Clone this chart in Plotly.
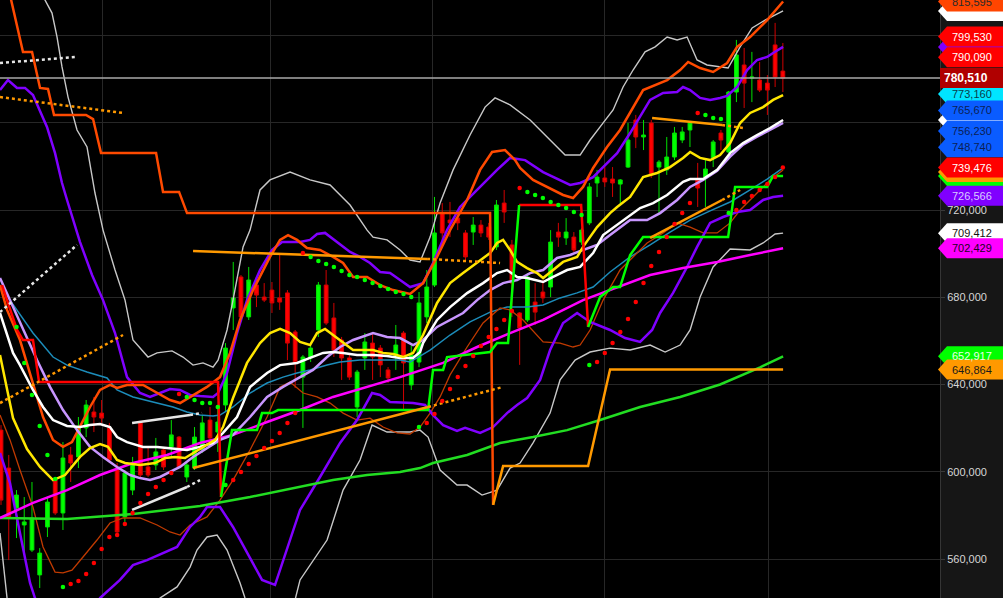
import plotly.graph_objects as go

K = 1000.0
Y_MIN, Y_MAX = 542117, 816300
X_MIN, X_MAX = -0.13, 121.3
FIG_W, FIG_H, PLOT_W = 1003, 598, 940

# ---------------- candles (values in thousands) ----------------
candle_idx = list(range(102))
opens = [619.1, 601.7, 583.4, 575.6, 564.1, 552.7, 574.7, 596.2, 581.1, 607.7,
         606.8, 620.1, 627.4, 626.9, 620.1, 601.7, 579.3, 591.6, 622.4, 602.2,
         603.1, 610.0, 611.4, 615.9, 597.6, 601.7, 610.0, 623.7, 618.2, 630.6,
         675.1, 689.3, 671.0, 685.6, 680.1, 683.3, 679.7, 682.0, 664.1, 643.4,
         652.2, 665.0, 685.6, 670.5, 660.4, 652.2, 629.7, 652.2, 659.0, 656.7,
         646.7, 652.6, 663.6, 639.8, 650.3, 671.0, 685.6, 718.6, 715.4, 716.3,
         709.5, 709.9, 713.1, 712.2, 703.1, 723.2, 704.0, 672.8, 669.6, 677.8,
         682.4, 684.7, 709.9, 707.2, 707.6, 705.3, 714.1, 732.4, 734.7, 734.2,
         731.9, 739.7, 761.3, 753.5, 759.9, 739.7, 738.4, 744.3, 752.1, 756.7,
         733.8, 735.1, 743.9, 755.3, 746.6, 774.1, 786.5, 780.5, 779.6, 778.2,
         795.7, 783.7]
highs = [621.4, 607.7, 591.6, 588.4, 595.3, 565.0, 588.4, 597.1, 613.6, 611.4,
         625.1, 632.9, 634.3, 632.9, 622.4, 604.0, 600.8, 606.8, 623.3, 611.4,
         615.5, 610.4, 623.7, 616.4, 604.0, 620.5, 626.0, 629.7, 630.6, 659.0,
         696.2, 690.2, 693.9, 689.3, 686.5, 687.0, 699.4, 683.3, 665.0, 653.5,
         658.1, 687.0, 692.5, 677.4, 661.8, 654.4, 646.7, 663.6, 663.6, 658.1,
         648.0, 667.3, 664.5, 658.1, 682.4, 692.5, 726.0, 723.2, 723.7, 720.0,
         710.8, 716.8, 715.4, 714.1, 724.6, 729.2, 706.3, 673.2, 691.1, 686.5,
         687.9, 710.8, 714.1, 716.3, 709.9, 711.8, 732.4, 738.4, 740.6, 739.7,
         734.2, 759.9, 763.6, 761.3, 761.3, 742.9, 753.5, 758.1, 758.1, 760.4,
         741.6, 742.9, 752.1, 756.7, 774.6, 798.0, 794.3, 792.5, 787.9, 781.9,
         805.8, 796.6]
lows = [584.8, 559.5, 569.6, 562.7, 563.2, 546.7, 570.1, 580.2, 573.3, 595.3,
        601.7, 615.9, 618.2, 622.4, 604.0, 571.9, 577.0, 589.3, 597.6, 597.6,
        600.8, 600.8, 606.8, 601.7, 595.3, 600.8, 608.6, 611.4, 609.1, 627.4,
        665.0, 669.6, 669.6, 675.5, 677.8, 672.8, 674.2, 651.2, 638.4, 620.1,
        650.3, 661.8, 667.3, 652.6, 642.1, 642.1, 625.1, 646.7, 642.1, 643.4,
        640.7, 646.7, 628.3, 637.5, 648.0, 668.2, 684.7, 704.9, 707.6, 710.8,
        697.1, 704.0, 707.6, 706.3, 701.7, 714.1, 671.0, 649.0, 668.7, 667.3,
        677.4, 680.1, 703.1, 704.0, 700.8, 704.0, 713.1, 726.0, 730.6, 726.0,
        722.3, 739.3, 748.4, 747.5, 734.7, 718.6, 736.1, 742.9, 750.7, 748.9,
        721.4, 721.4, 739.7, 747.5, 746.1, 769.5, 766.8, 769.5, 774.1, 763.6,
        776.4, 774.1]
closes = [587.0, 579.3, 589.3, 577.0, 578.8, 562.7, 586.1, 581.1, 606.3, 604.0,
          620.5, 630.6, 625.1, 624.6, 605.4, 572.4, 599.4, 604.0, 598.5, 598.5,
          609.1, 602.2, 616.9, 602.2, 603.1, 615.9, 622.4, 615.5, 622.8, 656.7,
          679.7, 671.0, 687.9, 681.0, 678.7, 677.4, 677.8, 659.0, 649.9, 652.6,
          656.7, 685.6, 668.2, 655.8, 652.2, 643.4, 645.7, 659.5, 652.6, 649.0,
          643.0, 658.1, 649.9, 653.5, 677.4, 684.7, 709.5, 709.5, 714.1, 714.1,
          698.5, 713.1, 709.5, 707.6, 722.3, 719.1, 686.5, 665.9, 689.3, 673.2,
          679.7, 705.3, 707.6, 709.9, 701.7, 710.8, 730.6, 735.1, 732.9, 732.4,
          733.8, 752.1, 753.5, 754.4, 736.1, 742.0, 744.3, 755.3, 755.8, 759.9,
          730.1, 738.8, 751.2, 752.1, 774.1, 791.1, 778.2, 781.0, 775.0, 775.0,
          781.0, 780.51]

# ---------------- indicator lines: (candle index, value in thousands) ----------------
bb_outer_up = [(5.04, 825.5), (5.68, 816.3), (6.59, 810.3), (7.24, 799.3), (7.88, 785.6), (8.66, 771.8),
               (9.82, 756.7), (11.11, 748.9), (12.14, 727.8), (13.18, 710.8), (14.73, 692.5), (16.02, 678.7),
               (17.05, 660.4), (18.99, 652.6), (20.16, 654.5), (22.09, 655.4), (23.51, 652.6), (24.81, 648.9),
               (26.10, 649.9), (27.39, 648.0), (28.04, 651.2), (29.20, 665.0), (29.97, 678.7), (31.27, 703.1),
               (32.17, 710.8), (33.46, 729.2), (34.75, 733.8), (37.34, 737.4), (39.92, 733.8), (42.51, 731.5),
               (45.09, 722.3), (47.29, 710.8), (48.06, 707.6), (49.87, 706.3), (51.55, 701.7), (52.84, 697.1),
               (54.13, 696.2), (55.43, 707.6), (56.72, 723.2), (58.40, 738.4), (60.59, 754.4), (62.53, 767.2),
               (63.82, 771.4), (65.76, 768.2), (68.35, 761.3), (70.93, 752.1), (72.87, 745.2), (74.81, 745.2),
               (76.10, 752.1), (77.39, 758.1), (79.07, 765.9), (80.36, 776.4), (81.65, 784.2), (83.20, 792.5),
               (84.50, 794.8), (86.05, 799.3), (87.34, 798.0), (88.63, 799.3), (89.92, 788.8), (91.21, 786.5),
               (93.93, 785.1), (95.48, 794.8), (97.03, 803.5), (98.71, 807.1), (101.03, 811.3)]
bb_outer_lo = [(-0.13, 571.9), (0.78, 542.1), (5.04, 518.3), (16.67, 518.3), (20.54, 542.1), (22.74, 547.2),
               (24.42, 556.3), (25.32, 564.1), (26.61, 570.1), (27.91, 571.0), (29.20, 564.1), (30.88, 549.0),
               (31.52, 542.1), (33.46, 522.9), (36.69, 522.9), (38.63, 550.4), (42.12, 568.7), (44.19, 591.6),
               (46.38, 605.4), (47.93, 621.4), (49.87, 618.2), (52.84, 618.2), (54.13, 619.1), (55.17, 615.9),
               (56.72, 600.8), (58.91, 593.9), (60.21, 593.9), (62.14, 589.3), (64.08, 591.6), (65.76, 601.7),
               (67.05, 604.0), (68.73, 613.2), (70.93, 626.9), (72.22, 642.1), (74.16, 651.2), (76.10, 654.9),
               (78.68, 656.7), (81.27, 655.8), (83.85, 658.1), (85.79, 654.9), (87.73, 658.1), (89.02, 665.0),
               (90.31, 680.1), (91.99, 693.9), (94.19, 702.1), (96.77, 701.7), (98.45, 704.9), (100.0, 709.0),
               (101.03, 709.4)]
bb_up = [(-0.13, 775.0), (0.90, 779.6), (2.07, 776.0), (3.10, 776.0), (4.13, 772.7), (5.94, 758.1), (6.98, 746.1),
         (7.88, 732.4), (8.53, 724.6), (10.21, 705.3), (11.76, 690.2), (13.18, 678.7), (14.73, 663.6), (16.28, 643.4),
         (17.96, 636.1), (19.25, 634.3), (20.54, 636.1), (21.83, 637.9), (23.13, 637.5), (24.42, 635.2), (25.71, 634.7),
         (27.39, 634.3), (28.04, 636.1), (29.20, 645.3), (30.49, 663.6), (31.78, 678.7), (33.46, 692.5), (35.01, 701.7),
         (36.31, 705.3), (38.63, 705.3), (39.92, 706.3), (40.83, 709.0), (41.86, 709.5), (43.41, 705.3), (45.09, 700.8),
         (46.38, 698.5), (47.67, 695.7), (48.97, 691.6), (50.26, 691.1), (51.55, 687.9), (52.84, 684.7), (54.52, 686.5),
         (55.81, 695.7), (57.62, 710.8), (59.30, 721.4), (61.50, 729.2), (62.79, 733.8), (64.08, 738.4), (65.76, 743.9),
         (67.70, 742.9), (70.03, 737.4), (72.22, 733.8), (73.51, 731.5), (74.81, 732.4), (76.49, 735.1), (77.78, 739.7),
         (79.59, 746.1), (81.27, 755.3), (82.56, 762.7), (83.85, 770.5), (85.53, 773.7), (87.34, 774.1), (88.11, 776.4),
         (89.02, 775.0), (90.31, 771.4), (91.60, 770.5), (92.89, 771.4), (93.80, 772.3), (95.09, 776.4), (96.38, 784.2),
         (97.67, 788.8), (98.97, 790.2), (99.74, 792.0), (101.03, 794.8)]
bb_lo = [(-0.13, 608.6), (1.16, 594.8), (2.45, 571.9), (3.75, 549.0), (4.39, 542.1), (6.33, 522.9), (10.85, 522.9),
         (12.79, 542.1), (15.37, 550.4), (17.05, 557.2), (18.86, 559.5), (20.93, 562.7), (22.74, 565.5), (24.42, 574.7),
         (25.71, 579.3), (26.61, 583.8), (28.29, 583.8), (29.97, 574.7), (31.78, 562.7), (33.72, 550.4), (35.40, 548.1),
         (37.08, 566.4), (38.63, 582.5), (41.21, 597.6), (43.80, 613.2), (45.99, 623.7), (47.93, 636.1), (48.97, 635.2),
         (50.26, 632.0), (53.23, 631.5), (54.78, 630.6), (55.81, 626.0), (57.11, 621.4), (58.91, 618.7), (59.95, 620.1),
         (61.89, 617.8), (63.57, 620.5), (65.37, 626.9), (66.67, 630.6), (67.96, 633.8), (69.64, 642.1), (70.93, 655.8),
         (72.61, 668.2), (74.42, 672.8), (76.10, 668.7), (78.68, 665.0), (80.62, 661.3), (82.56, 659.5), (84.11, 665.0),
         (85.14, 672.8), (86.82, 682.0), (88.63, 693.9), (89.92, 703.1), (91.60, 714.1), (93.28, 716.8), (95.09, 719.1),
         (96.77, 720.0), (98.45, 724.6), (99.74, 726.0), (101.03, 726.57)]
kelt_up = [(-0.13, 685.6), (0.78, 674.2), (2.45, 660.4), (4.13, 640.7), (5.43, 625.1), (6.72, 614.6), (8.01, 611.4),
           (9.17, 613.6), (10.21, 620.5), (11.50, 629.7), (12.79, 637.5), (14.08, 639.8), (14.99, 638.4), (16.28, 639.8),
           (18.35, 639.8), (20.16, 636.1), (21.83, 632.9), (23.13, 631.5), (24.81, 635.2), (26.61, 638.9), (28.29, 643.4),
           (29.59, 654.5), (30.88, 669.6), (32.56, 683.3), (34.75, 698.5), (36.05, 706.3), (37.08, 708.5), (38.24, 706.3),
           (39.53, 702.6), (41.21, 701.7), (42.89, 698.5), (44.19, 695.7), (45.48, 689.3), (47.29, 689.3), (48.97, 685.6),
           (50.65, 683.3), (52.84, 681.5), (54.52, 686.5), (56.33, 698.5), (58.01, 710.8), (60.21, 724.6), (61.89, 738.4),
           (63.44, 746.6), (65.11, 747.5), (66.41, 742.9), (67.05, 739.3), (68.73, 733.8), (70.93, 730.1), (72.61, 726.9),
           (73.90, 725.5), (75.19, 730.6), (76.49, 739.3), (78.29, 748.9), (79.97, 756.7), (81.27, 764.5), (82.95, 775.0),
           (86.05, 779.6), (87.73, 784.2), (88.76, 787.9), (90.31, 785.1), (91.99, 783.3), (93.80, 787.4), (95.09, 794.8),
           (96.77, 799.3), (98.06, 803.9), (98.97, 807.1), (101.03, 815.6)]
kelt_lo = [(-0.13, 626.0), (1.16, 614.6), (2.45, 600.8), (4.13, 583.8), (5.43, 565.5), (6.98, 554.0), (8.01, 553.6),
           (9.17, 554.9), (10.59, 560.9), (12.40, 568.7), (14.08, 576.5), (15.76, 578.8), (17.96, 578.8), (20.16, 575.6),
           (21.83, 572.4), (23.13, 571.0), (24.42, 575.6), (26.61, 579.3), (28.29, 587.0), (29.97, 596.2), (32.17, 610.0),
           (34.37, 625.1), (36.05, 638.9), (37.34, 641.2), (39.02, 636.1), (40.83, 634.3), (42.51, 631.5), (44.19, 626.9),
           (45.99, 623.7), (47.67, 624.6), (49.35, 620.5), (51.16, 617.8), (52.84, 617.3), (54.13, 620.5), (55.43, 626.9),
           (56.72, 634.3), (58.01, 644.4), (60.21, 657.2), (62.27, 668.2), (64.47, 675.1), (65.76, 674.2), (67.44, 669.6),
           (70.03, 659.5), (72.22, 659.0), (73.90, 657.2), (74.81, 658.1), (76.10, 665.0), (77.78, 678.7), (79.97, 692.5),
           (81.65, 698.5), (83.46, 704.9), (85.53, 709.5), (87.34, 714.1), (89.02, 712.2), (90.70, 709.5), (92.51, 709.5),
           (94.19, 714.1), (95.48, 720.0), (97.67, 727.8), (99.35, 733.8), (101.03, 738.4)]
ma_yellow = [(-0.13, 653.5), (1.55, 624.6), (3.36, 610.4), (5.04, 602.2), (6.72, 596.2), (8.27, 598.5), (10.21, 606.8),
             (11.50, 610.9), (12.79, 612.7), (13.82, 611.4), (14.99, 605.4), (16.02, 604.0), (17.96, 603.1), (19.90, 604.0),
             (21.19, 606.3), (22.48, 606.8), (23.77, 606.3), (25.06, 609.1), (26.61, 612.3), (27.65, 614.6), (28.68, 620.5),
             (29.97, 633.8), (31.78, 649.9), (33.46, 659.0), (34.75, 663.6), (36.05, 665.5), (37.34, 663.6), (38.63, 659.5),
             (39.92, 658.1), (40.83, 663.6), (41.86, 665.5), (42.89, 662.7), (44.19, 659.0), (45.48, 655.8), (48.06, 655.8),
             (49.35, 654.5), (50.65, 654.0), (51.94, 652.6), (53.23, 654.5), (54.52, 662.7), (56.33, 677.4), (58.01, 686.5),
             (59.69, 691.1), (61.50, 695.7), (63.18, 700.3), (64.08, 704.9), (64.86, 706.3), (65.76, 701.7), (66.67, 696.2),
             (67.96, 693.4), (69.25, 691.1), (70.03, 688.8), (71.32, 692.5), (72.61, 696.2), (74.42, 698.5), (75.19, 703.1),
             (77.00, 712.2), (78.68, 718.6), (79.59, 721.4), (81.27, 726.0), (82.95, 735.1), (84.75, 737.0), (86.43, 739.7),
             (88.11, 743.9), (89.02, 746.6), (90.31, 743.9), (91.60, 742.9), (92.89, 745.2), (94.19, 750.7), (95.48, 759.9),
             (96.77, 764.5), (98.45, 767.2), (99.74, 770.5), (101.03, 772.7)]
ma_white = [(-0.13, 672.8), (1.55, 654.5), (2.45, 648.9), (4.13, 637.5), (5.43, 629.7), (6.72, 623.7), (8.53, 621.0),
            (10.21, 620.5), (11.50, 621.4), (12.79, 621.9), (14.08, 620.5), (14.99, 615.9), (16.28, 613.6), (18.35, 611.4),
            (20.16, 611.4), (21.83, 610.9), (24.03, 610.0), (25.71, 611.4), (27.39, 613.2), (28.68, 617.8), (30.49, 625.1),
            (32.17, 638.9), (34.37, 645.3), (36.05, 648.9), (38.24, 649.9), (39.92, 652.2), (41.60, 654.5), (42.89, 654.9),
            (44.19, 654.5), (45.99, 653.5), (48.06, 653.5), (49.87, 653.1), (51.55, 652.2), (53.23, 652.2), (54.13, 654.9),
            (54.52, 659.0), (56.33, 669.6), (58.01, 675.5), (60.21, 681.9), (62.27, 686.5), (64.08, 691.1), (65.37, 692.5),
            (66.67, 689.3), (67.96, 688.8), (70.03, 687.0), (71.32, 689.3), (73.13, 692.5), (74.81, 693.9), (76.49, 700.3),
            (77.78, 708.5), (80.36, 715.4), (82.56, 720.9), (84.24, 723.2), (86.05, 726.9), (88.11, 732.9), (89.02, 734.2),
            (90.70, 734.2), (92.51, 738.4), (94.19, 746.1), (95.87, 750.7), (97.67, 754.4), (99.35, 757.6), (101.03, 761.3)]
ma_lavender = [(-0.13, 688.8), (1.16, 678.7), (2.84, 665.0), (4.65, 651.2), (6.33, 638.9), (8.01, 628.3), (9.82, 619.1),
               (11.50, 611.4), (13.18, 606.8), (14.99, 602.2), (16.67, 598.5), (17.96, 597.1), (19.25, 596.2), (20.54, 597.6),
               (21.83, 599.9), (23.13, 602.2), (24.81, 606.8), (26.61, 610.9), (28.29, 614.6), (29.97, 616.9), (32.17, 625.1),
               (34.37, 634.3), (36.43, 638.9), (38.63, 643.4), (40.31, 646.7), (42.12, 652.6), (43.80, 657.2), (45.48, 660.4),
               (47.29, 662.7), (48.06, 663.6), (49.87, 661.8), (51.55, 661.3), (53.23, 658.1), (54.52, 660.4), (56.33, 666.4),
               (58.01, 669.6), (59.69, 672.8), (61.50, 678.7), (63.18, 683.3), (64.86, 686.5), (66.67, 687.9), (68.35, 691.1),
               (70.03, 692.5), (71.83, 698.0), (73.51, 699.4), (75.19, 701.7), (77.00, 704.0), (78.68, 708.5), (81.27, 715.4),
               (83.46, 715.4), (85.14, 718.6), (87.34, 724.6), (89.02, 730.6), (90.70, 733.8), (92.51, 738.0), (94.19, 744.5),
               (95.87, 750.0), (97.67, 753.6), (99.35, 756.8), (101.03, 759.9)]
ma_teal = [(-0.13, 685.6), (1.16, 678.7), (4.13, 663.6), (6.72, 652.6), (8.53, 648.9), (11.11, 645.7), (13.70, 643.0),
           (14.99, 637.5), (17.05, 634.3), (19.64, 632.0), (22.22, 629.7), (24.03, 627.4), (25.71, 626.0), (27.39, 625.6),
           (28.29, 626.0), (29.97, 629.7), (32.17, 636.1), (34.37, 640.7), (36.43, 643.4), (38.24, 645.3), (39.92, 646.7),
           (42.12, 648.9), (43.80, 650.3), (46.38, 651.2), (48.97, 651.2), (51.55, 651.2), (52.84, 650.3), (55.43, 655.8),
           (58.01, 662.7), (60.59, 668.7), (63.18, 673.2), (65.37, 675.5), (67.96, 675.5), (70.03, 676.5), (72.22, 679.7),
           (74.42, 682.0), (76.49, 684.7), (78.68, 691.6), (81.27, 698.5), (83.85, 704.0), (86.43, 709.9), (89.02, 715.4),
           (91.60, 719.6), (94.19, 723.7), (96.77, 729.2), (98.97, 734.2), (101.03, 739.3)]
ma_magenta = [(-0.13, 578.8), (4.13, 585.7), (8.53, 591.6), (12.79, 598.5), (17.05, 604.0), (21.45, 607.7), (25.71, 613.2),
              (29.97, 616.9), (34.37, 622.8), (38.63, 628.3), (42.89, 634.3), (47.29, 638.9), (51.55, 643.4), (57.11, 649.9),
              (61.50, 657.2), (65.76, 663.6), (70.03, 669.6), (75.19, 678.7), (79.59, 684.7), (83.85, 690.2), (88.11, 693.4),
              (92.51, 696.2), (96.77, 699.4), (101.03, 702.43)]
ma_green = [(-0.13, 578.8), (8.53, 578.3), (17.05, 580.6), (25.71, 584.3), (32.17, 588.4), (38.63, 593.0), (42.89, 596.2),
            (47.29, 598.5), (51.55, 599.9), (54.13, 601.7), (55.81, 604.0), (60.21, 607.7), (64.47, 613.2), (68.73, 615.9),
            (73.13, 619.1), (77.39, 623.7), (82.56, 629.7), (87.73, 634.3), (92.89, 640.0), (98.06, 647.9), (101.03, 652.92)]

# trailing stop lines
stop_orangered = [(1.16, 818.6), (2.84, 792.5), (4.01, 792.5), (5.04, 776.0), (6.07, 775.5), (6.85, 763.6), (10.98, 763.6),
                  (11.89, 761.7), (12.92, 746.1), (20.03, 746.1), (20.93, 728.3), (23.00, 728.3), (24.03, 718.6),
                  (63.18, 718.6), (63.57, 584.8)]
stop_orange = [(63.57, 584.8), (64.86, 602.6), (75.84, 602.6), (78.04, 636.1), (78.68, 646.86), (101.03, 646.86)]
stop_red_1 = [(0.13, 685.6), (2.07, 665.0), (2.84, 660.4), (4.13, 660.4), (4.91, 641.2), (28.04, 641.2), (28.42, 588.4)]
stop_green_1 = [(28.42, 588.4), (29.84, 619.1), (33.07, 619.1), (33.72, 626.9), (35.01, 626.9), (35.79, 628.3),
                (55.17, 628.3), (55.81, 646.7), (57.11, 646.7), (57.62, 652.6), (63.18, 654.9), (64.08, 659.0),
                (65.50, 659.0), (66.93, 722.3)]
stop_red_2 = [(66.93, 722.3), (74.94, 722.3), (75.84, 666.4)]
stop_green_2 = [(75.84, 666.4), (77.39, 680.1), (79.07, 684.7), (79.97, 684.7), (81.27, 699.4), (82.95, 707.6),
                (93.93, 707.6), (94.83, 730.6), (98.97, 730.6), (99.74, 735.6), (101.03, 735.6)]

# trend lines: (solid part, dotted extension)
trend_orange = [
    ([(24.81, 601.7), (55.17, 629.7)], [(55.17, 629.7), (64.86, 638.9)]),
    ([(24.81, 701.2), (55.04, 697.6)], [(55.04, 697.6), (64.47, 695.7)]),
    ([(84.11, 762.2), (93.15, 759.0)], [(93.15, 759.0), (95.87, 757.6)]),
    ([(83.85, 707.2), (93.15, 724.6)], [(93.15, 724.6), (95.48, 729.2)]),
    (None, [(-0.13, 771.8), (15.76, 764.5)]),
    (None, [(-0.13, 631.5), (15.76, 662.7)]),
]
trend_white = [
    ([(16.93, 622.4), (24.42, 626.0)], [(24.42, 626.0), (25.97, 626.9)]),
    ([(16.93, 582.5), (24.03, 593.0)], [(24.03, 593.0), (25.71, 596.2)]),
    (None, [(-0.13, 787.4), (9.82, 790.2)]),
    (None, [(-0.13, 673.2), (9.82, 704.0)]),
]

# parabolic SAR dots (candle index 2..101)
sar_idx = list(range(2, 102))
sar_val = [666.4, 649.9, 635.2, 621.0, 607.7, 596.7, 547.2, 548.5, 549.9, 553.1, 558.2, 564.6, 570.1, 571.0, 576.1,
           581.1, 585.7, 589.8, 593.0, 596.2, 599.4, 635.6, 634.3, 632.9, 631.5, 631.5, 629.7, 593.9, 596.2, 599.9,
           603.6, 607.2, 610.9, 614.1, 617.8, 622.4, 626.9, 700.3, 698.5, 696.6, 695.3, 693.9, 692.0, 690.2, 689.3,
           687.9, 686.5, 685.2, 683.8, 682.4, 681.5, 680.1, 620.5, 622.4, 626.5, 632.4, 637.9, 643.4, 648.5, 653.1,
           657.7, 661.8, 665.5, 669.6, 673.7, 730.1, 728.3, 726.9, 725.5, 723.7, 722.3, 720.9, 719.1, 717.7, 648.9,
           650.3, 654.5, 659.0, 664.1, 670.0, 677.8, 686.5, 694.3, 700.8, 707.6, 713.6, 718.6, 723.2, 764.5, 763.6,
           762.2, 761.7, 718.6, 720.0, 723.7, 726.4, 729.2, 731.9, 735.1, 739.48]
sar_side = ("GGGGGGG" "RRRRRRRRRRRRRRR" "GGGGGG" "RRRRRRRRRR" "GGGGGGGGGGGGGGG"
            "RRRRRRRRRRRRR" "GGGGGGGGG" "RRRRRRRRRRRRRR" "GGGG" "RRRRRRR")

# right-edge value tags (drawn in order; later ones on top)
tag_values = [811300, 815595, 794800, 799530, 790090, 761300, 773160, 765670, 756230, 748740,
              735600, 737400, 739476, 726566, 709412, 702429, 652917, 646864, 780510]
tag_bg = ['#ffffff', '#ff4500', '#8000ff', '#ff0000', '#ff0000', '#ffffff', '#00e5ff', '#0a5cff', '#0a5cff', '#0a5cff',
          '#00ff00', '#ff9900', '#ff0000', '#8000ff', '#ffffff', '#ff00ff', '#00ff00', '#ff9900', '#b00000']
tag_fg = [None, '#2a2a2a', None, '#ffffff', '#ffffff', None, '#0b3d4a', '#0b1f55', '#0b1f55', '#0b1f55',
          None, None, '#ffffff', '#d8ccff', '#111111', '#220022', '#e8ffe8', '#1a1a1a', '#ffffff']

last_price = 780510
price_ticks = [560000, 600000, 640000, 680000, 720000, 760000, 800000]
tick_text = ['560,000', '600,000', '640,000', '680,000', '720,000', '', '']
period_ticks = [13.05, 34.75, 55.8, 78.0, 99.1]

# ---------------- figure ----------------
fig = go.Figure()
fig.add_trace(go.Candlestick(
    x=candle_idx, open=[v * K for v in opens], high=[v * K for v in highs],
    low=[v * K for v in lows], close=[v * K for v in closes],
    increasing=dict(line=dict(color='#00e000', width=1), fillcolor='#00ff00'),
    decreasing=dict(line=dict(color='#d00000', width=1), fillcolor='#ff0000'),
    whiskerwidth=0, hoverinfo='skip', showlegend=False))


def add_line(points, color, width, dash='solid'):
    fig.add_trace(go.Scatter(x=[p[0] for p in points], y=[p[1] * K for p in points], mode='lines',
                             line=dict(color=color, width=width, dash=dash),
                             hoverinfo='skip', showlegend=False))


add_line(bb_outer_up, '#c8c8c8', 1.4)
add_line(bb_outer_lo, '#c8c8c8', 1.4)
add_line(ma_teal, '#1c8cba', 1.5)
add_line(kelt_lo, '#c03a00', 1.3)
add_line(bb_up, '#8000ff', 2.5)
add_line(bb_lo, '#8000ff', 2.5)
add_line(kelt_up, '#ff4a00', 2.5)
add_line(ma_green, '#22dd22', 2.5)
add_line(ma_magenta, '#ff00ff', 2.5)
add_line(ma_lavender, '#c896ff', 2.5)
add_line(ma_white, '#ffffff', 2.5)
add_line(ma_yellow, '#ffe600', 2.5)
add_line(stop_orangered, '#ff4a00', 2.5)
add_line(stop_orange, '#ff9900', 2.5)
add_line(stop_red_1, '#ff0000', 2.5)
add_line(stop_red_2, '#ff0000', 2.5)
add_line(stop_green_1, '#00ff00', 2.5)
add_line(stop_green_2, '#00ff00', 2.5)
for solid, dotted in trend_orange:
    if solid:
        add_line(solid, '#ff9900', 2.5)
    add_line(dotted, '#ff9900', 2.5, 'dot')
for solid, dotted in trend_white:
    if solid:
        add_line(solid, '#e6e6e6', 2.5)
    add_line(dotted, '#e6e6e6', 2.5, 'dot')

fig.add_trace(go.Scatter(
    x=sar_idx, y=[v * K for v in sar_val], mode='markers',
    marker=dict(size=4.5, color=['#00ff00' if s == 'G' else '#ff0000' for s in sar_side], line=dict(width=0)),
    hoverinfo='skip', showlegend=False))

x_right = PLOT_W / FIG_W
shapes = [dict(type='line', xref='paper', yref='y', x0=0, x1=x_right, y0=last_price, y1=last_price,
               line=dict(color='#a8a8a8', width=1.5), layer='above')]
annotations = []
half_h = (Y_MAX - Y_MIN) / FIG_H * 10
tip_x, body_x = 938 / FIG_W, 947 / FIG_W
for v, bg, fg in zip(tag_values, tag_bg, tag_fg):
    if v == last_price:
        path = (f'M {940 / FIG_W},{v - half_h} L {940 / FIG_W},{v + half_h} L 1,{v + half_h} '
                f'L 1,{v - half_h} Z')
    else:
        path = (f'M {tip_x},{v} L {body_x},{v + half_h} L 1,{v + half_h} L 1,{v - half_h} '
                f'L {body_x},{v - half_h} Z')
    shapes.append(dict(type='path', xref='paper', yref='y', path=path, fillcolor=bg,
                       line=dict(width=0), layer='above'))
    if fg:
        bold = v == last_price
        annotations.append(dict(
            xref='paper', yref='y', x=(966 if bold else 972) / FIG_W, y=v,
            text=(f'<b>{v:,}</b>' if bold else f'{v:,}'), showarrow=False,
            xanchor='center', yanchor='middle',
            font=dict(family='Liberation Sans, Arial', size=12 if bold else 11, color=fg)))

fig.update_layout(
    width=FIG_W, height=FIG_H, template='none',
    margin=dict(l=0, r=0, t=0, b=0, pad=0),
    paper_bgcolor='#161616', plot_bgcolor='#000000',
    showlegend=False, shapes=shapes, annotations=annotations,
    xaxis=dict(domain=[0, x_right], range=[X_MIN, X_MAX], rangeslider=dict(visible=False),
               tickvals=period_ticks, showticklabels=False, ticks='', showgrid=True,
               gridcolor='#272727', gridwidth=1, zeroline=False, showline=False, fixedrange=True),
    yaxis=dict(side='right', range=[Y_MIN, Y_MAX], tickvals=price_ticks, ticktext=tick_text,
               showgrid=True, gridcolor='#272727', gridwidth=1, zeroline=False,
               showline=True, linecolor='#353535', linewidth=1,
               ticks='outside', ticklen=4, tickcolor='#3a3a3a',
               tickfont=dict(family='Liberation Sans, Arial', size=11, color='#d6d6d6'),
               automargin=False, fixedrange=True),
)

fig.write_html('out.html', config={'displayModeBar': False})

# remove the browser's default page margin so the figure sits at the window's top-left corner
with open('out.html', encoding='utf-8') as fh:
    page = fh.read()
page = page.replace('<head>', '<head><style>html,body{margin:0;padding:0;overflow:hidden;background:#161616}</style>', 1)
with open('out.html', 'w', encoding='utf-8') as fh:
    fh.write(page)
